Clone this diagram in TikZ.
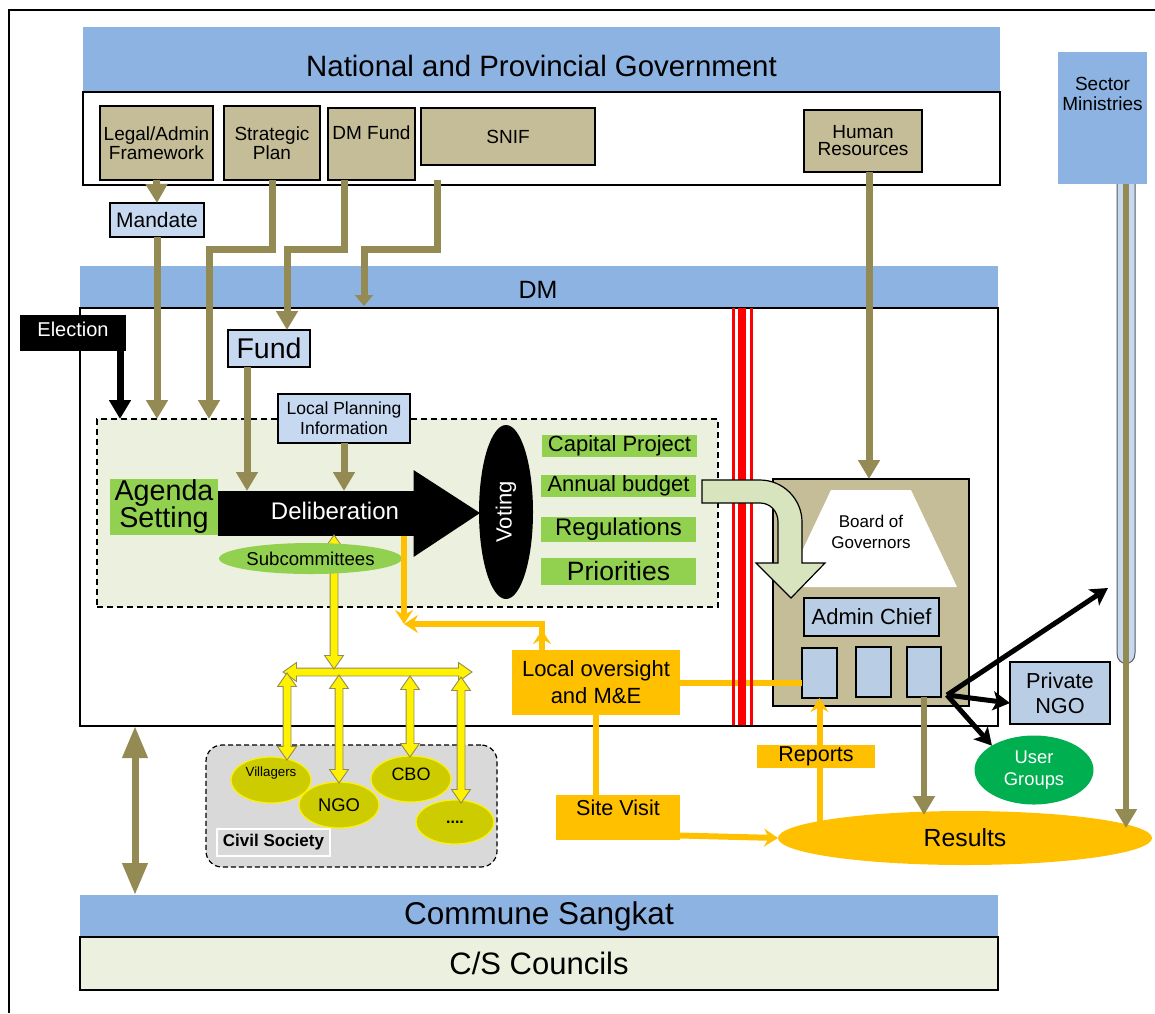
\documentclass[tikz,border=0pt]{standalone}
\usepackage{fontspec}
\setmainfont{Liberation Sans}
\usetikzlibrary{arrows.meta,shapes.geometric,shapes.arrows}
\definecolor{bbar}{HTML}{8DB3E2}
\definecolor{tanc}{HTML}{C4BD97}
\definecolor{olv}{HTML}{948A54}
\definecolor{lb}{HTML}{C6D9F1}
\definecolor{lbb}{HTML}{B9CDE5}
\definecolor{lgr}{HTML}{EBF1DE}
\definecolor{grn}{HTML}{92D050}
\definecolor{org}{HTML}{FFC000}
\definecolor{ygr}{HTML}{CCCC00}
\definecolor{gry}{HTML}{D9D9D9}
\definecolor{cgr}{HTML}{D7E4BD}
\definecolor{ugr}{HTML}{00B050}
\newcommand\myfs[2]{\fontsize{#1}{#2}\selectfont}
\begin{document}
\begin{tikzpicture}[x=1pt,y=-1pt,
  every node/.style={inner sep=0pt,outer sep=0pt,align=center},
  olarr/.style={draw=olv,line width=7pt,-{Triangle[length=19pt,width=21pt]}},
  blkarr/.style={draw=black,line width=7pt,-{Triangle[length=19pt,width=21pt]}},
  orline/.style={draw=org,line width=6pt},
  orarr/.style={draw=org,line width=6pt,-{Stealth[length=14pt,width=18pt,inset=5pt]}},
  blarr/.style={draw=black,line width=5pt,-{Stealth[length=17pt,width=19pt,inset=4pt]}},
  tbox/.style={draw=black,line width=1.5pt,fill=tanc,font=\myfs{19}{17}},
  lbox/.style={draw=black,line width=1.5pt,fill=lb},
  bbox/.style={draw=black,line width=1.5pt,fill=lbb},
  gbox/.style={fill=grn},
  obox/.style={fill=org},
  yarr/.style={double arrow,draw=olv,fill=yellow,line width=0.9pt,inner xsep=0pt,inner ysep=3.5pt,double arrow head extend=5.5pt,double arrow tip angle=70},
  yel/.style={ellipse,fill=ygr,draw=yellow,line width=1.2pt}
]
\useasboundingbox (0,0) rectangle (1155,1013);
% outer frame
\draw[line width=2.5pt] (9,1013) -- (9,10) -- (1155,10);

% national and provincial government
\node[fill=bbar,minimum width=917,minimum height=65] (npg) at (541.5,59.5) {};
\node[font=\myfs{29.4}{30}] (npgt) at (541.5,66) {National and Provincial Government};
\node[draw,fill=white,line width=2pt,minimum width=917,minimum height=93] (npgbox) at (541.5,138.5) {};
\node[tbox,minimum width=113,minimum height=74] (legal) at (156.5,143) {Legal/Admin\\Framework};
\node[tbox,minimum width=96,minimum height=74] (strat) at (272,143) {Strategic\\Plan};
\node[tbox,minimum width=87,minimum height=72] (dmf) at (371.5,144) {};
\node[font=\myfs{19}{17}] (dmft) at (371.5,133) {DM Fund};
\node[tbox,minimum width=174,minimum height=57] (snif) at (508,136.5) {SNIF};
\node[tbox,minimum width=118,minimum height=62] (hr) at (863,141) {Human\\Resources};

% sector ministries
\draw[draw=gray!70!black,line width=1pt,fill=lb] (1117,180) -- (1117,653) .. controls (1117,667) and (1135,667) .. (1135,653) -- (1135,180);
\node[fill=bbar,minimum width=89,minimum height=132] (sm) at (1102.5,118) {};
\node[font=\myfs{19}{20}] (smt) at (1102.5,94) {Sector\\Ministries};

\node[lbox,minimum width=94,minimum height=34,font=\myfs{21}{22}] (mandate) at (157,220) {Mandate};

% DM
\node[fill=bbar,minimum width=918,minimum height=42] (dmbar) at (539,287) {};
\node[font=\myfs{25}{26}] (dmt) at (538,290) {DM};
\node[draw,line width=2pt,minimum width=918,minimum height=418] (dmbox) at (539,517) {};

% deliberation area
\node[draw,dash pattern=on 6pt off 4pt,line width=1.2pt,fill=lgr,minimum width=621,minimum height=188] (dbox) at (407.5,513) {};
\node[gbox,minimum width=108,minimum height=56,font=\myfs{28.7}{27}] (agenda) at (164,507) {Agenda\\Setting};
\node[fill=black,minimum width=196,minimum height=45] (delib) at (316,513.5) {};
\fill (413.5,470) -- (480,513) -- (413.5,557) -- cycle;
\node[text=white,font=\myfs{24}{25}] (delibt) at (335,511) {Deliberation};
\node[ellipse,fill=black,minimum width=174,minimum height=54,rotate=90,text=white,font=\myfs{22}{22}] (voting) at (506,512) {Voting};
\node[gbox,minimum width=155,minimum height=22,font=\myfs{22}{22}] (cap) at (619.5,446) {Capital Project};
\node[gbox,minimum width=155,minimum height=22,font=\myfs{22}{22}] (annual) at (618.5,486) {Annual budget};
\node[gbox,minimum width=155,minimum height=25,font=\myfs{24}{24}] (reg) at (618.5,529.5) {Regulations};
\node[gbox,minimum width=155,minimum height=27,font=\myfs{26.5}{26}] (prio) at (618.5,571.5) {Priorities};
\node[lbox,minimum width=132,minimum height=49,font=\myfs{17.5}{20}] (lpi) at (344,418.5) {Local Planning\\Information};
\node[lbox,minimum width=82,minimum height=37,font=\myfs{28.5}{28}] (fund) at (269,348.5) {Fund};

\node[fill=black,text=white,minimum width=106,minimum height=36,text depth=8pt,font=\myfs{20}{20}] (elec) at (73,333) {Election};

% subcommittees and yellow links
\node[yarr,minimum height=189pt] (yh) at (377.5,672) {};
\node[yarr,minimum height=134pt,rotate=90] (ysub) at (334,602) {};
\node[ellipse,fill=grn,minimum width=183,minimum height=31,font=\myfs{18.6}{19}] (subc) at (310.5,558.5) {Subcommittees};

% admin
\node[draw,line width=1.5pt,fill=tanc,minimum width=196,minimum height=227] (admin) at (871,592.5) {};
\fill[white] (831,490) -- (911,490) -- (957,587) -- (785,587) -- cycle;
\node[font=\myfs{17}{21}] (bog) at (871,532) {Board of\\Governors};
\node[bbox,minimum width=135,minimum height=38,font=\myfs{22}{22}] (achief) at (871.5,617) {Admin Chief};
\node[bbox,minimum width=35,minimum height=50] (sb1) at (819.5,673) {};
\node[bbox,minimum width=35,minimum height=50] (sb2) at (873.5,672) {};
\node[bbox,minimum width=34,minimum height=50] (sb3) at (924,672) {};

% local oversight
\node[obox,minimum width=168,minimum height=65,font=\myfs{22}{27}] (lo) at (596,682.5) {Local oversight\\and M\&E};
\draw[orline] (lo.east) -- (lo.east -| sb1.west);

% red lines
\draw[red,line width=3pt] (733,308) -- (733,725);
\draw[red,line width=8pt] (742,308) -- (742,725);
\draw[red,line width=3pt] (751.5,308) -- (751.5,725);

% curved arrow
\draw[fill=cgr,line width=1.2pt] (702,480) -- (760,480) .. controls (783,480) and (802,499) .. (802,522) -- (802,563) -- (825,563) -- (791,598) -- (756,563) -- (778,563) -- (778,522) .. controls (778,511) and (770,503) .. (760,503) -- (702,503) -- cycle;

% olive connectors
\draw[olarr] (legal.south) -- (mandate.north);
\draw[olarr] (mandate.south) -- (mandate.south |- dbox.north);
\coordinate (sbend) at (209,249);
\draw[olarr] (strat.south) |- (sbend) -- (sbend |- dbox.north);
\coordinate (dmfa) at ([xshift=-27pt]dmf.south);
\coordinate (dbend) at (287,249);
\draw[olarr] (dmfa) |- (dbend) -- (dbend |- fund.north);
\coordinate (snifa) at ([shift={(-71,15)}]snif.south);
\coordinate (snbend) at (364,249);
\draw[draw=olv,line width=7pt,-{Triangle[length=11pt,width=18pt]}] (snifa) |- (snbend) -- (364,306);
\coordinate (fa) at ([xshift=-22pt]fund.south);
\draw[olarr] (fa) -- (fa |- delib.north);
\draw[olarr] (lpi.south) -- (lpi.south |- delib.north);
\coordinate (hra) at ([xshift=6pt]hr.south);
\draw[olarr] (hra) -- (hra |- admin.north);
\coordinate (ea) at ([xshift=-6pt]elec.south east);
\draw[blkarr] (ea) -- (ea |- dbox.north);

% orange feedback
\coordinate (oc) at (404,624);
\coordinate (da) at ([xshift=88pt]delib.south);
\draw[orarr] (da) -- (oc);
\coordinate (loa) at ([xshift=-54pt]lo.north);
\draw[orarr] (loa) |- (oc);
\draw[orarr] (loa) -- ([yshift=20pt]loa);

% civil society
\node[draw,dash pattern=on 5pt off 3pt,rounded corners=16pt,fill=gry,line width=1.2pt,minimum width=291,minimum height=122] (civ) at (351.5,806) {};
\node[draw=white,line width=1.2pt,fill=gry,minimum width=113,minimum height=27,font=\bfseries\myfs{17}{17}] (civl) at (273.5,842.5) {Civil Society};
\node[yel,minimum width=80,minimum height=46,text depth=17pt,font=\myfs{13.3}{14}] (vil) at (271,780) {Villagers};
\node[yel,minimum width=80,minimum height=46,font=\myfs{18.4}{18}] (ngo) at (339,805) {NGO};
\node[yel,minimum width=80,minimum height=46,text depth=10pt,font=\myfs{18}{18}] (cbo) at (411,779) {CBO};
\node[yel,minimum width=78,minimum height=44,font=\bfseries\myfs{16}{16}] (dots) at (455,822) {....};
\node[yarr,minimum height=87pt,rotate=90] (yv1) at (287,716.5) {};
\node[yarr,minimum height=108pt,rotate=90] (yv2) at (339,729) {};
\node[yarr,minimum height=81pt,rotate=90] (yv3) at (410,716.5) {};
\node[yarr,minimum height=126pt,rotate=90] (yv4) at (461,740) {};

% commune sangkat
\node[fill=bbar,minimum width=918,minimum height=42,font=\myfs{31.5}{30}] (cs) at (539,916) {Commune Sangkat};
\node[draw,line width=2pt,fill=lgr,minimum width=918,minimum height=53,font=\myfs{31}{31}] (csc) at (539,963.5) {C/S Councils};
\draw[draw=olv,line width=7pt,{Triangle[length=32pt,width=24pt]}-{Triangle[length=32pt,width=24pt]}] (135,0 |- dmbox.south) -- (135,0 |- cs.north);

% site visit, reports, results
\node[obox,minimum width=124,minimum height=45,text depth=20pt,font=\myfs{21.6}{22}] (sv) at (618,817.5) {Site Visit};
\draw[orline] (lo.south) -- (lo.south |- sv.north);
\draw[orarr] (sb1.south |- 0,838) -- (sb1.south);
\node[obox,minimum width=118,minimum height=23,font=\myfs{21.5}{22}] (rep) at (816,756.5) {Reports};
\node[ellipse,fill=org,minimum width=374,minimum height=54,font=\myfs{24.8}{25}] (res) at (965,838) {Results};
\draw[orarr] ([yshift=-18pt]sv.east) -- (res.west);
\draw[olarr,line width=6pt] (sb3.south) -- ([yshift=-118pt]sb3.south);
\coordinate (sma) at ([xshift=23.5pt]sm.south);
\coordinate (smend) at (1126,828);
\draw[olarr,line width=6pt] (sma) -- (smend);

% private NGO, user groups
\node[bbox,minimum width=100,minimum height=62,font=\myfs{21.7}{25}] (pngo) at (1060,693) {Private\\NGO};
\node[ellipse,fill=ugr,text=white,minimum width=119,minimum height=69,font=\myfs{18.4}{22}] (ug) at (1034,770) {User\\Groups};
\coordinate (bo) at ([shift={(6,-2)}]sb3.south east);
\coordinate (bup) at (1108,588);
\draw[blarr] (bo) -- (bup);
\draw[blarr] (bo) -- ([yshift=-10pt]pngo.west);
\draw[blarr] (bo) -- (ug.north west);
\end{tikzpicture}
\end{document}
